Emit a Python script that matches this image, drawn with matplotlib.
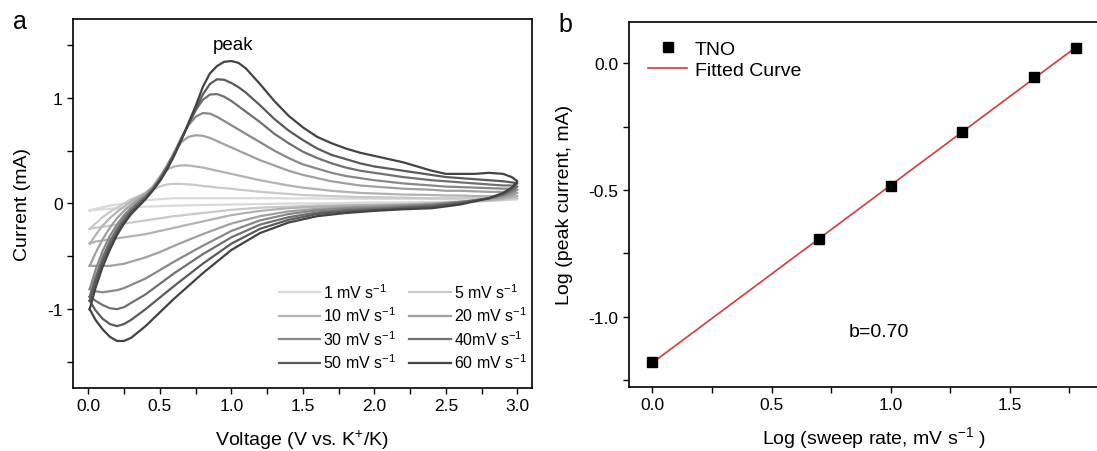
import numpy as np
import matplotlib.pyplot as plt
from matplotlib.ticker import MultipleLocator, FormatStrFormatter

plt.rcParams['font.family'] = ['Liberation Sans', 'DejaVu Sans']
plt.rcParams['axes.unicode_minus'] = False
plt.rcParams['mathtext.default'] = 'regular'

# ---- (a) cyclic voltammograms ----
# forward (anodic) sweep voltages and return (cathodic) sweep voltages
v_fwd = [0.01, 0.05, 0.1, 0.15, 0.2, 0.25, 0.3, 0.35, 0.4, 0.45, 0.5, 0.55, 0.6, 0.65,
         0.7, 0.75, 0.8, 0.85, 0.9, 0.95, 1.0, 1.05, 1.1, 1.2, 1.3, 1.4, 1.5, 1.6, 1.7,
         1.8, 1.9, 2.0, 2.2, 2.4, 2.5, 2.6, 2.7, 2.8, 2.9, 2.96, 3.0]
v_rev = [3.0, 2.96, 2.9, 2.8, 2.6, 2.4, 2.2, 2.0, 1.8, 1.6, 1.4, 1.2, 1.0, 0.8, 0.6,
         0.5, 0.4, 0.3, 0.25, 0.2, 0.15, 0.1, 0.05, 0.01]

fwd_1 = [-0.066, -0.05, -0.035, -0.02, -0.01, 0.0, 0.01, 0.02, 0.03, 0.035, 0.04, 0.045,
         0.05, 0.05, 0.05, 0.05, 0.05, 0.05, 0.05, 0.05, 0.05, 0.05, 0.05, 0.05, 0.05,
         0.048, 0.048, 0.047, 0.046, 0.045, 0.045, 0.045, 0.044, 0.043, 0.043, 0.042,
         0.042, 0.042, 0.041, 0.041, 0.04]
rev_1 = [0.04, 0.035, 0.03, 0.025, 0.02, 0.015, 0.01, 0.01, 0.005, 0.0, 0.0, -0.005,
         -0.01, -0.015, -0.02, -0.025, -0.03, -0.035, -0.04, -0.045, -0.05, -0.055,
         -0.06, -0.066]

fwd_5 = [-0.24, -0.19, -0.13, -0.08, -0.04, 0.0, 0.04, 0.07, 0.10, 0.13, 0.16, 0.18,
         0.186, 0.185, 0.18, 0.175, 0.165, 0.16, 0.15, 0.145, 0.14, 0.13, 0.125, 0.11,
         0.10, 0.09, 0.08, 0.075, 0.07, 0.065, 0.06, 0.06, 0.055, 0.05, 0.05, 0.05,
         0.05, 0.05, 0.05, 0.05, 0.05]
rev_5 = [0.05, 0.045, 0.035, 0.025, 0.01, 0.0, -0.005, -0.01, -0.015, -0.02, -0.03,
         -0.04, -0.06, -0.09, -0.12, -0.14, -0.16, -0.18, -0.19, -0.20, -0.21, -0.22,
         -0.23, -0.24]

fwd_10 = [-0.38, -0.30, -0.21, -0.14, -0.08, -0.03, 0.02, 0.06, 0.10, 0.16, 0.25, 0.32,
          0.35, 0.36, 0.36, 0.35, 0.34, 0.325, 0.31, 0.295, 0.28, 0.265, 0.25, 0.22,
          0.195, 0.17, 0.15, 0.135, 0.12, 0.11, 0.10, 0.095, 0.085, 0.08, 0.075, 0.075,
          0.07, 0.07, 0.07, 0.07, 0.07]
rev_10 = [0.07, 0.06, 0.045, 0.03, 0.015, 0.0, -0.01, -0.015, -0.02, -0.03, -0.045,
          -0.07, -0.11, -0.17, -0.23, -0.26, -0.29, -0.31, -0.32, -0.33, -0.34, -0.35,
          -0.36, -0.38]

fwd_20 = [-0.59, -0.47, -0.34, -0.23, -0.14, -0.07, -0.01, 0.04, 0.09, 0.15, 0.25, 0.36,
          0.48, 0.58, 0.63, 0.645, 0.64, 0.62, 0.59, 0.56, 0.53, 0.50, 0.47, 0.41, 0.36,
          0.31, 0.27, 0.24, 0.21, 0.19, 0.17, 0.16, 0.14, 0.13, 0.12, 0.12, 0.115, 0.11,
          0.11, 0.11, 0.10]
rev_20 = [0.10, 0.08, 0.06, 0.04, 0.015, -0.005, -0.015, -0.025, -0.035, -0.05, -0.075,
          -0.12, -0.19, -0.29, -0.40, -0.46, -0.51, -0.55, -0.57, -0.58, -0.59, -0.59,
          -0.59, -0.59]

fwd_30 = [-0.81, -0.63, -0.45, -0.31, -0.20, -0.11, -0.04, 0.02, 0.07, 0.14, 0.24, 0.35,
          0.48, 0.62, 0.74, 0.82, 0.855, 0.85, 0.82, 0.78, 0.74, 0.70, 0.66, 0.58, 0.50,
          0.43, 0.37, 0.33, 0.29, 0.26, 0.24, 0.22, 0.19, 0.17, 0.16, 0.155, 0.15, 0.145,
          0.14, 0.14, 0.13]
rev_30 = [0.13, 0.10, 0.075, 0.045, 0.015, -0.01, -0.025, -0.035, -0.045, -0.065, -0.10,
          -0.16, -0.26, -0.40, -0.55, -0.63, -0.71, -0.77, -0.80, -0.82, -0.83, -0.84,
          -0.83, -0.81]

fwd_40 = [-0.88, -0.70, -0.51, -0.36, -0.24, -0.14, -0.06, 0.0, 0.06, 0.13, 0.23, 0.34,
          0.47, 0.61, 0.75, 0.88, 0.98, 1.03, 1.035, 1.01, 0.97, 0.92, 0.87, 0.77, 0.66,
          0.57, 0.49, 0.43, 0.38, 0.34, 0.31, 0.29, 0.25, 0.22, 0.21, 0.20, 0.19, 0.18,
          0.17, 0.17, 0.16]
rev_40 = [0.16, 0.12, 0.085, 0.05, 0.01, -0.02, -0.035, -0.05, -0.06, -0.085, -0.13,
          -0.20, -0.32, -0.48, -0.66, -0.76, -0.86, -0.94, -0.98, -1.0, -0.99, -0.96,
          -0.92, -0.88]

fwd_50 = [-0.92, -0.74, -0.55, -0.40, -0.27, -0.17, -0.08, -0.01, 0.05, 0.13, 0.22, 0.33,
          0.46, 0.60, 0.75, 0.89, 1.03, 1.13, 1.175, 1.17, 1.14, 1.10, 1.05, 0.93, 0.80,
          0.69, 0.60, 0.52, 0.46, 0.42, 0.38, 0.35, 0.31, 0.27, 0.25, 0.24, 0.23, 0.22,
          0.21, 0.20, 0.19]
rev_50 = [0.19, 0.14, 0.09, 0.05, 0.0, -0.03, -0.045, -0.06, -0.075, -0.10, -0.155,
          -0.24, -0.38, -0.57, -0.78, -0.89, -1.0, -1.10, -1.14, -1.16, -1.14, -1.09,
          -1.01, -0.92]

fwd_60 = [-1.00, -0.80, -0.60, -0.44, -0.30, -0.19, -0.10, -0.03, 0.04, 0.12, 0.21, 0.32,
          0.45, 0.60, 0.76, 0.92, 1.10, 1.23, 1.30, 1.34, 1.347, 1.33, 1.28, 1.13, 0.97,
          0.83, 0.72, 0.63, 0.57, 0.52, 0.48, 0.45, 0.39, 0.31, 0.28, 0.28, 0.28, 0.29,
          0.28, 0.25, 0.21]
rev_60 = [0.21, 0.15, 0.10, 0.05, -0.01, -0.045, -0.055, -0.07, -0.09, -0.12, -0.18,
          -0.28, -0.44, -0.66, -0.90, -1.03, -1.16, -1.27, -1.30, -1.30, -1.26, -1.19,
          -1.10, -1.00]

rate_labels = ['1 mV s$^{-1}$', '5 mV s$^{-1}$', '10 mV s$^{-1}$', '20 mV s$^{-1}$',
               '30 mV s$^{-1}$', '40mV s$^{-1}$', '50 mV s$^{-1}$', '60 mV s$^{-1}$']
greys = ['#dadada', '#c9c9c9', '#b2b2b2', '#a0a0a0', '#888888', '#707070', '#5a5a5a',
         '#434343']

# ---- (b) peak current vs sweep rate ----
log_rate = [0.0, 0.699, 1.0, 1.301, 1.602, 1.778]
log_ipeak = [-1.18, -0.693, -0.485, -0.272, -0.053, 0.059]

fig = plt.figure(figsize=(10.97, 4.52), dpi=100)
ax1 = fig.add_axes([0.0668, 0.1394, 0.4179, 0.8164])
ax2 = fig.add_axes([0.5731, 0.1423, 0.4479, 0.8075])

fwd_all = [fwd_1, fwd_5, fwd_10, fwd_20, fwd_30, fwd_40, fwd_50, fwd_60]
rev_all = [rev_1, rev_5, rev_10, rev_20, rev_30, rev_40, rev_50, rev_60]
lines = []
for fwd, rev, c, lab in zip(fwd_all, rev_all, greys, rate_labels):
    v = v_fwd + v_rev
    cur = fwd + rev
    ln, = ax1.plot(v, cur, color=c, lw=1.6, label=lab, solid_joinstyle='round')
    lines.append(ln)

ax1.set_xlim(-0.105, 3.1)
ax1.set_ylim(-1.745, 1.745)
ax1.xaxis.set_major_locator(MultipleLocator(0.5))
ax1.xaxis.set_minor_locator(MultipleLocator(0.25))
ax1.xaxis.set_major_formatter(FormatStrFormatter('%.1f'))
ax1.yaxis.set_major_locator(MultipleLocator(1))
ax1.yaxis.set_minor_locator(MultipleLocator(0.5))
ax1.yaxis.set_major_formatter(FormatStrFormatter('%d'))
ax1.set_xlabel('Voltage (V vs. K$^{+}$/K)', fontsize=14, labelpad=10)
ax1.set_ylabel('Current (mA)', fontsize=14, labelpad=12)
ax1.text(1.01, 1.5, 'peak', ha='center', va='center', fontsize=13.5)

order = [0, 2, 4, 6, 1, 3, 5, 7]
ax1.legend([lines[k] for k in order], [rate_labels[k] for k in order], ncol=2,
           frameon=False, fontsize=11.5, loc='lower right', bbox_to_anchor=(0.99, 0.045),
           handlelength=2.6, handletextpad=0.2, columnspacing=0.8, labelspacing=0.3,
           borderpad=0, borderaxespad=0)

# linear fit of log(ip) against log(v)
b, a = np.polyfit(log_rate, log_ipeak, 1)
xfit = np.array([log_rate[0], log_rate[-1]])
ax2.plot(log_rate, log_ipeak, 's', color='black', ms=7.5, label='TNO', zorder=3)
ax2.plot(xfit, a + b * xfit, '-', color='#d23c3c', lw=1.2, label='Fitted Curve')
ax2.set_xlim(-0.1, 1.964)
ax2.set_ylim(-1.276, 0.164)
ax2.xaxis.set_major_locator(MultipleLocator(0.5))
ax2.xaxis.set_minor_locator(MultipleLocator(0.25))
ax2.xaxis.set_major_formatter(FormatStrFormatter('%.1f'))
ax2.yaxis.set_major_locator(MultipleLocator(0.5))
ax2.yaxis.set_minor_locator(MultipleLocator(0.25))
ax2.yaxis.set_major_formatter(FormatStrFormatter('%.1f'))
ax2.spines['right'].set_visible(False)
ax2.set_xlabel('Log (sweep rate, mV s$^{-1}$ )', fontsize=14, labelpad=9)
ax2.set_ylabel('Log (peak current, mA)', fontsize=14, labelpad=11)
ax2.text(0.95, -1.06, 'b=%.2f' % b, ha='center', va='center', fontsize=14)
ax2.legend(loc='upper left', bbox_to_anchor=(0.02, 0.975), frameon=False, fontsize=14,
           handlelength=2.0, handletextpad=0.4, labelspacing=0.15, borderpad=0)

for ax in (ax1, ax2):
    ax.tick_params(which='both', direction='out', length=4, width=1, labelsize=12.5,
                   top=False, right=False)
    for s in ax.spines.values():
        s.set_linewidth(1.2)

fig.text(0.018, 0.952, 'a', fontsize=18, ha='center', va='center')
fig.text(0.515, 0.945, 'b', fontsize=18, ha='center', va='center')

fig.savefig('out.png', dpi=100)
